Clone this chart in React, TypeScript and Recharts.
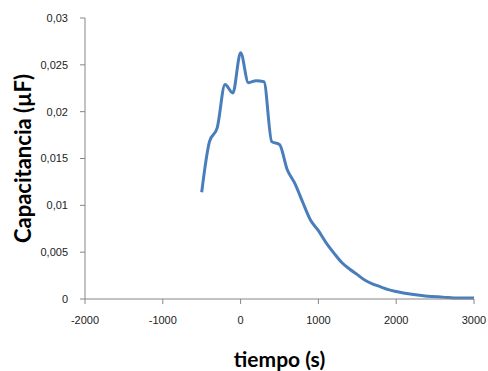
import { LineChart, Line, XAxis, YAxis, Label } from "recharts";

// tiempo (s) and capacitancia (µF) samples
const tiempo = [
  -500, -400, -300, -200, -100, 0, 100, 200, 300, 400, 500, 600, 700, 800, 900,
  1000, 1100, 1200, 1300, 1400, 1500, 1600, 1700, 1800, 1900, 2000, 2200, 2400,
  2600, 2800, 3000,
];
const capacitancia = [
  0.0114, 0.0168, 0.0183, 0.0229, 0.022, 0.0263, 0.0231, 0.0233, 0.0232, 0.0168,
  0.0165, 0.0138, 0.0123, 0.0103, 0.0084, 0.0073, 0.006, 0.0049, 0.0039, 0.0032,
  0.0026, 0.002, 0.0016, 0.0013, 0.001, 0.0008, 0.0005, 0.0003, 0.0002, 0.0001,
  0.0001,
];

const xTicks = [-2000, -1000, 0, 1000, 2000, 3000];
const yTicks = [0, 0.005, 0.01, 0.015, 0.02, 0.025, 0.03];

const data = tiempo.map((t, i) => ({ t, c: capacitancia[i] }));

const axisColor = "#868686";
const tickStyle = { fontSize: 11, fill: "#222", fontFamily: "Liberation Sans, Arial, sans-serif" };
const titleFont = "Lato, 'Open Sans', sans-serif";

const comma = (v: number) => String(v).replace(".", ",");

export default function App() {
  return (
    <div style={{ position: "absolute", left: 0, top: 0, background: "#fff" }}>
      <LineChart
        width={488}
        height={371}
        data={data}
        margin={{ top: 18, right: 14, left: 0, bottom: 0 }}
      >
        <XAxis
          type="number"
          dataKey="t"
          domain={[-2000, 3000]}
          ticks={xTicks}
          height={72}
          tickSize={5}
          tickMargin={12}
          stroke={axisColor}
          tick={tickStyle}
          interval={0}
        >
          <Label
            value="tiempo (s)"
            position="insideBottom"
            offset={4}
            style={{ fontSize: 21, fontWeight: 700, fill: "#000", fontFamily: titleFont }}
          />
        </XAxis>
        <YAxis
          type="number"
          domain={[0, 0.03]}
          ticks={yTicks}
          width={85}
          tickSize={5}
          tickMargin={12}
          stroke={axisColor}
          tick={tickStyle}
          tickFormatter={comma}
          interval={0}
        >
          <Label
            value="Capacitancia (µF)"
            angle={-90}
            position="insideLeft"
            offset={23}
            style={{
              fontSize: 22,
              fontWeight: 700,
              fill: "#000",
              fontFamily: titleFont,
              textAnchor: "middle",
            }}
          />
        </YAxis>
        <Line
          type="monotone"
          dataKey="c"
          stroke="#4a7ebb"
          strokeWidth={3}
          dot={false}
          isAnimationActive={false}
        />
      </LineChart>
    </div>
  );
}
